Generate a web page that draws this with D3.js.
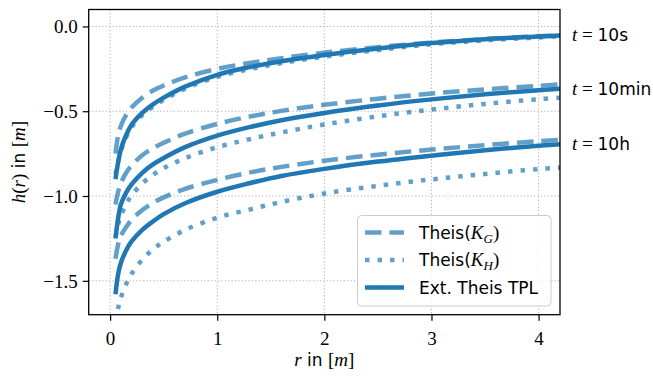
<!DOCTYPE html>
<html>
<head>
<meta charset="utf-8">
<script src="https://cdn.jsdelivr.net/npm/d3@7/dist/d3.min.js"></script>
<style>
body { margin:0; background:#fff; }
svg { display:block; }
</style>
</head>
<body>
<svg id="chart" width="653" height="376"></svg>
<script>

// values
var r_values = [0.05, 0.075, 0.1, 0.15, 0.2, 0.3, 0.4, 0.5, 0.7, 1.0, 1.3, 1.6, 2.0, 2.5, 3.0, 3.5, 4.0, 4.2];

var tpl_10s   = [-0.90, -0.80, -0.725, -0.64, -0.58, -0.51, -0.46, -0.42, -0.355, -0.285, -0.24, -0.205, -0.168, -0.13, -0.098, -0.075, -0.059, -0.053];
var kg_10s    = [-0.75, -0.642, -0.587, -0.522, -0.478, -0.42, -0.378, -0.348, -0.30, -0.25, -0.216, -0.187, -0.155, -0.122, -0.095, -0.074, -0.058, -0.052];
var kh_10s    = [-0.87, -0.80, -0.737, -0.653, -0.593, -0.523, -0.473, -0.433, -0.367, -0.297, -0.252, -0.216, -0.178, -0.139, -0.105, -0.082, -0.065, -0.058];

var tpl_10min = [-1.25, -1.13, -1.05, -0.98, -0.932, -0.863, -0.814, -0.776, -0.712, -0.644, -0.594, -0.553, -0.51, -0.466, -0.43, -0.40, -0.376, -0.367];
var kg_10min  = [-1.05, -0.975, -0.925, -0.863, -0.82, -0.76, -0.718, -0.686, -0.632, -0.575, -0.532, -0.498, -0.462, -0.426, -0.396, -0.371, -0.35, -0.342];
var kh_10min  = [-1.24, -1.168, -1.118, -1.047, -0.997, -0.926, -0.875, -0.836, -0.777, -0.712, -0.665, -0.625, -0.578, -0.53, -0.49, -0.457, -0.429, -0.42];

var tpl_10h   = [-1.58, -1.46, -1.395, -1.32, -1.268, -1.20, -1.15, -1.107, -1.043, -0.975, -0.925, -0.882, -0.84, -0.797, -0.762, -0.73, -0.704, -0.694];
var kg_10h    = [-1.37, -1.285, -1.235, -1.183, -1.14, -1.083, -1.04, -1.008, -0.958, -0.905, -0.862, -0.828, -0.792, -0.756, -0.726, -0.70, -0.677, -0.668];
var kh_10h    = [-1.74, -1.66, -1.60, -1.52, -1.46, -1.375, -1.315, -1.27, -1.20, -1.128, -1.08, -1.035, -0.985, -0.94, -0.902, -0.87, -0.841, -0.833];

var time_labels = ["10s", "10min", "10h"];
var x_ticks = [0, 1, 2, 3, 4];
var y_ticks = [0, -0.5, -1.0, -1.5];

var width = 653,
    height = 376,
    margins = {left: 88.7, right: 93, top: 9.5, bottom: 61.3},
    blue = "#1f77b4",
    serif = "'Liberation Serif', 'DejaVu Serif', serif",
    sans = "'DejaVu Sans', sans-serif",
    line_width = 4.5,
    styles = {
        "kg": {dash: "16.5,8", opacity: 0.7},
        "kh": {dash: "4.5,8", opacity: 0.7},
        "tpl": {dash: null, opacity: 1}
    };

var series = [
    {model: "kg", values: kg_10s}, {model: "kh", values: kh_10s}, {model: "tpl", values: tpl_10s},
    {model: "kg", values: kg_10min}, {model: "kh", values: kh_10min}, {model: "tpl", values: tpl_10min},
    {model: "kg", values: kg_10h}, {model: "kh", values: kh_10h}, {model: "tpl", values: tpl_10h}
];

const svg = d3.select("#chart");

const x_scale = d3.scaleLinear().domain([-0.2, 4.2]).range([margins.left, width - margins.right]);
const y_scale = d3.scaleLinear().domain([-1.7, 0.1]).range([height - margins.bottom, margins.top]);

const plot_w = width - margins.left - margins.right;
const plot_h = height - margins.top - margins.bottom;

svg.append("defs").append("clipPath").attr("id", "plot_clip")
    .append("rect")
    .attr("x", margins.left)
    .attr("y", margins.top)
    .attr("width", plot_w)
    .attr("height", plot_h);

//grid
svg.append("g").selectAll("line").data(x_ticks).join("line")
    .attr("x1", d => x_scale(d)).attr("x2", d => x_scale(d))
    .attr("y1", margins.top).attr("y2", margins.top + plot_h)
    .attr("stroke", "#b0b0b0").attr("stroke-width", 1).attr("stroke-dasharray", "1.2,2.2");

svg.append("g").selectAll("line").data(y_ticks).join("line")
    .attr("y1", d => y_scale(d)).attr("y2", d => y_scale(d))
    .attr("x1", margins.left).attr("x2", margins.left + plot_w)
    .attr("stroke", "#b0b0b0").attr("stroke-width", 1).attr("stroke-dasharray", "1.2,2.2");

//curves
const line = d3.line()
    .x((d, i) => x_scale(r_values[i]))
    .y(d => y_scale(d))
    .curve(d3.curveCatmullRom.alpha(0.5));

svg.append("g").attr("clip-path", "url(#plot_clip)")
    .selectAll("path").data(series).join("path")
    .attr("d", d => line(d.values))
    .attr("fill", "none")
    .attr("stroke", blue)
    .attr("stroke-opacity", d => styles[d.model].opacity)
    .attr("stroke-width", line_width)
    .attr("stroke-dasharray", d => styles[d.model].dash);

//axes
const x_axis = svg.append("g")
    .attr("transform", "translate(0," + (margins.top + plot_h) + ")")
    .call(d3.axisBottom(x_scale).tickValues(x_ticks).tickFormat(d3.format("d")).tickSize(6).tickPadding(6));

const y_axis = svg.append("g")
    .attr("transform", "translate(" + margins.left + ",0)")
    .call(d3.axisLeft(y_scale).tickValues(y_ticks).tickFormat(d3.format(".1f")).tickSize(6).tickPadding(5));

[x_axis, y_axis].forEach(function(ax) {
    ax.attr("font-family", null).attr("font-size", null);
    ax.select(".domain").remove();
    ax.selectAll(".tick line").attr("stroke", "#000").attr("stroke-width", 1.2);
    ax.selectAll(".tick text")
        .style("font-family", serif)
        .style("font-size", "19px")
        .attr("fill", "#000");
});
x_axis.selectAll(".tick text").attr("dy", "0.95em");
y_axis.selectAll(".tick text").attr("dy", "0.34em");

svg.append("rect")
    .attr("x", margins.left).attr("y", margins.top)
    .attr("width", plot_w).attr("height", plot_h)
    .attr("fill", "none").attr("stroke", "#000").attr("stroke-width", 1.3);

//mixed math / text labels
function rich_text(sel, parts) {
    parts.forEach(function(p) {
        var t = sel.append("tspan")
            .style("font-family", p.f === "sans" ? sans : serif)
            .style("font-style", p.i ? "italic" : "normal")
            .style("font-size", p.s || (p.f === "sans" ? "17px" : "19px"))
            .text(p.t);
        if (p.dy) t.attr("dy", p.dy);
    });
    return sel;
}

rich_text(svg.append("text")
    .attr("x", margins.left + plot_w / 2)
    .attr("y", 366)
    .attr("text-anchor", "middle"),
    [{t: "r", f: "serif", i: true}, {t: " in ", f: "sans"}, {t: "[", f: "serif"}, {t: "m", f: "serif", i: true}, {t: "]", f: "serif"}]);

rich_text(svg.append("text")
    .attr("transform", "translate(25," + (margins.top + plot_h / 2) + ") rotate(-90)")
    .attr("text-anchor", "middle"),
    [{t: "h", f: "serif", i: true}, {t: "(", f: "serif"}, {t: "r", f: "serif", i: true}, {t: ")", f: "serif"},
     {t: " in ", f: "sans"}, {t: "[", f: "serif"}, {t: "m", f: "serif", i: true}, {t: "]", f: "serif"}]);

//time labels at the end of each TPL curve
[tpl_10s, tpl_10min, tpl_10h].forEach(function(vals, i) {
    rich_text(svg.append("text")
        .attr("x", width - margins.right + 12)
        .attr("y", y_scale(vals[vals.length - 1]) + 6),
        [{t: "t", f: "serif", i: true}, {t: " = ", f: "serif"}, {t: time_labels[i], f: "sans"}]);
});

//legend
const legend = svg.append("g");
legend.append("rect")
    .attr("x", 357.5).attr("y", 215.5)
    .attr("width", 193.5).attr("height", 90.5)
    .attr("rx", 4)
    .attr("fill", "#fff").attr("fill-opacity", 0.8)
    .attr("stroke", "#cccccc").attr("stroke-width", 1);

var legend_items = [
    {model: "kg", parts: [{t: "Theis(", f: "sans"}, {t: "K", f: "serif", i: true}, {t: "G", f: "serif", i: true, s: "13px", dy: "4"}, {t: ")", f: "serif", dy: "-4"}]},
    {model: "kh", parts: [{t: "Theis(", f: "sans"}, {t: "K", f: "serif", i: true}, {t: "H", f: "serif", i: true, s: "13px", dy: "4"}, {t: ")", f: "serif", dy: "-4"}]},
    {model: "tpl", parts: [{t: "Ext. Theis TPL", f: "sans"}]}
];

legend_items.forEach(function(item, i) {
    var cy = 232.5 + i * 27.5;
    legend.append("line")
        .attr("x1", 365).attr("x2", 404)
        .attr("y1", cy).attr("y2", cy)
        .attr("stroke", blue)
        .attr("stroke-opacity", styles[item.model].opacity)
        .attr("stroke-width", line_width)
        .attr("stroke-dasharray", styles[item.model].dash);
    rich_text(legend.append("text").attr("x", 419).attr("y", cy + 6), item.parts);
});

</script>
</body>
</html>
